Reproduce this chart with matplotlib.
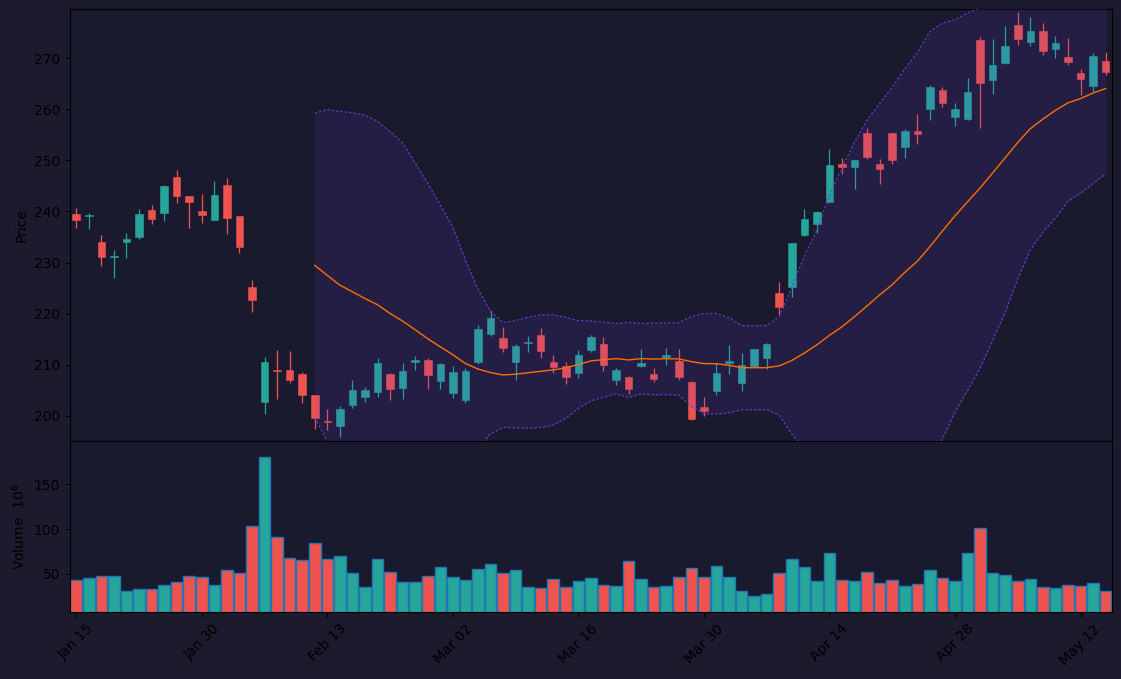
import matplotlib
matplotlib.use("Agg")
import matplotlib.pyplot as plt
import numpy as np
import pandas as pd

# ---------------- data ----------------
opens = [239.44, 239.11, 233.96, 231.10, 234.03, 235.00, 240.22, 239.70, 246.68, 242.96,
         240.03, 238.33, 245.11, 239.05, 225.16, 202.74, 209.06, 208.93, 208.15, 204.04,
         199.02, 198.04, 202.15, 203.72, 204.69, 208.15, 205.48, 210.56, 210.89, 206.84,
         204.50, 203.13, 210.50, 216.04, 215.19, 210.56, 214.28, 215.78, 210.50, 209.71,
         208.41, 212.91, 214.02, 207.04, 207.56, 209.78, 208.15, 211.54, 210.69, 206.58,
         201.69, 204.89, 210.37, 206.45, 209.78, 211.28, 223.99, 225.23, 235.40, 237.55,
         241.85, 249.35, 248.70, 255.28, 249.35, 255.28, 252.61, 255.67, 260.04, 263.69,
         258.47, 258.02, 273.47, 265.71, 269.04, 276.40, 273.14, 275.23, 271.77, 270.14,
         267.01, 264.54, 269.49]
closes = [238.33, 239.24, 231.10, 231.36, 234.55, 239.44, 238.53, 244.92, 243.02, 241.85,
          239.31, 243.16, 238.72, 233.05, 222.69, 210.50, 208.80, 207.04, 204.11, 199.61,
          198.83, 201.30, 205.02, 205.02, 210.30, 205.28, 208.74, 210.89, 208.02, 210.10,
          208.54, 208.87, 216.95, 219.10, 213.30, 213.62, 214.47, 212.71, 209.58, 207.63,
          211.86, 215.38, 209.97, 208.93, 205.28, 210.30, 207.24, 211.86, 207.63, 199.35,
          200.91, 208.34, 210.69, 209.91, 213.04, 214.02, 221.32, 233.77, 238.59, 239.96,
          249.15, 248.70, 250.00, 250.65, 248.31, 250.07, 255.67, 255.15, 264.28, 261.21,
          259.97, 263.30, 265.12, 268.58, 272.29, 273.79, 275.23, 271.38, 272.88, 269.23,
          265.91, 270.34, 267.27]
highs = [240.74, 239.77, 235.33, 232.53, 235.85, 240.55, 241.20, 245.11, 248.04, 243.09,
         243.48, 245.89, 246.61, 239.10, 226.53, 211.60, 212.97, 212.78, 208.67, 204.10,
         201.30, 201.96, 206.98, 205.74, 211.28, 208.47, 210.43, 211.67, 211.28, 210.43,
         209.84, 209.32, 217.73, 220.73, 217.47, 214.02, 215.71, 217.14, 211.86, 210.63,
         212.84, 215.78, 215.38, 209.32, 207.82, 213.04, 209.45, 213.23, 213.04, 206.78,
         203.78, 210.43, 213.82, 212.39, 213.10, 214.21, 226.27, 233.90, 240.55, 240.09,
         252.28, 250.46, 250.13, 256.39, 250.33, 255.30, 256.19, 258.99, 264.80, 264.34,
         261.28, 266.17, 274.18, 273.66, 276.34, 278.94, 278.10, 276.92, 274.25, 273.86,
         267.93, 270.93, 271.12]
lows = [236.83, 236.64, 229.33, 227.05, 230.96, 234.68, 237.61, 238.14, 241.72, 236.83,
        237.74, 238.27, 235.66, 231.94, 220.40, 200.46, 203.39, 206.52, 202.61, 197.52,
        197.33, 195.96, 201.63, 202.80, 203.78, 203.19, 203.39, 209.00, 205.35, 205.35,
        203.59, 202.61, 210.10, 215.65, 212.52, 207.11, 212.58, 211.41, 208.34, 206.32,
        207.50, 212.52, 208.80, 206.06, 204.37, 209.58, 206.71, 209.97, 207.04, 199.22,
        200.00, 204.11, 208.28, 204.89, 209.65, 209.19, 219.75, 223.34, 235.20, 235.85,
        241.80, 247.39, 244.46, 250.33, 245.37, 249.35, 250.52, 253.26, 257.95, 260.50,
        256.71, 257.89, 256.39, 263.04, 268.90, 272.62, 272.43, 270.66, 270.08, 268.71,
        262.84, 263.43, 266.69]
volumes = [43.0, 45.2, 47.4, 47.4, 31.5, 33.0, 32.7, 37.5, 40.8, 47.4,
           46.3, 37.5, 54.1, 50.7, 103.5, 180.3, 91.7, 67.3, 65.1, 84.0,
           66.2, 69.6, 50.7, 35.2, 66.2, 52.6, 40.8, 40.8, 47.4, 57.4,
           46.3, 43.0, 55.2, 60.7, 50.7, 54.1, 35.2, 34.1, 44.1, 35.2,
           41.9, 45.2, 37.5, 36.3, 64.0, 44.1, 35.2, 36.3, 46.3, 56.3,
           46.3, 58.5, 46.3, 30.8, 25.3, 27.5, 50.7, 66.2, 57.4, 41.9,
           72.9, 43.0, 41.9, 51.8, 39.7, 43.0, 36.3, 38.6, 54.1, 45.2,
           41.9, 72.9, 101.7, 50.7, 48.5, 41.9, 44.1, 35.2, 34.1, 37.5,
           36.3, 39.7, 30.8]
start_date = "2026-01-15"
holidays = ["2026-01-19", "2026-02-16", "2026-04-03"]

# ---------------- build ----------------
n = len(closes)
dates = [d for d in pd.bdate_range(start_date, periods=n + 10)
         if d.strftime("%Y-%m-%d") not in holidays][:n]
df = pd.DataFrame({"Open": opens, "High": highs, "Low": lows,
                   "Close": closes, "Volume": volumes}, index=dates)
sma = df["Close"].rolling(20).mean()
std = df["Close"].rolling(20).std()
upper = sma + 2 * std
lower = sma - 2 * std

UP = "#26a69a"
DOWN = "#ef5350"
FIG_BG = "#1b1b2d"
AX_BG = "#1a1a2e"
BAND = "#6a3fdc"

fig = plt.figure(figsize=(11.21, 6.79), dpi=100, facecolor=FIG_BG)
ax = fig.add_axes([0.0624, 0.3505, 0.9295, 0.6362], facecolor=AX_BG)
axv = fig.add_axes([0.0624, 0.0987, 0.9295, 0.2518], facecolor=AX_BG, sharex=ax)

x = np.arange(n)
o = df["Open"].values
c = df["Close"].values
h = df["High"].values
l = df["Low"].values
up = c >= o
colors = np.where(up, UP, DOWN)

# wicks
ax.vlines(x, l, h, colors=colors, linewidth=0.9, zorder=2)
# bodies
body_bottom = np.minimum(o, c)
body_h = np.maximum(np.abs(c - o), 0.12)
ax.bar(x, body_h, bottom=body_bottom, width=0.6, color=colors,
       edgecolor=colors, linewidth=0.4, zorder=2)

# Bollinger bands
ax.fill_between(x, lower.values, upper.values, where=~np.isnan(sma.values),
                color=BAND, alpha=0.13, linewidth=0, zorder=3)
ax.plot(x, upper.values, color=BAND, linestyle=(0, (2, 1.5)), linewidth=0.9,
        alpha=0.85, zorder=3)
ax.plot(x, lower.values, color=BAND, linestyle=(0, (2, 1.5)), linewidth=0.9,
        alpha=0.85, zorder=3)
ax.plot(x, sma.values, color="#ff6d00", linewidth=1.0, zorder=4)

ax.set_ylim(195.1, 279.6)
ax.set_xlim(-0.5, n - 0.5)
ax.set_yticks([200, 210, 220, 230, 240, 250, 260, 270])
ax.set_ylabel("Price")
ax.tick_params(axis="x", which="both", bottom=False, labelbottom=False)

# volume
axv.bar(x, df["Volume"].values, width=0.92, color=colors,
        edgecolor="#1f77b4", linewidth=1.0, zorder=2)
vmin = 0.3 * df["Volume"].min()
vmax = 1.1 * df["Volume"].max()
axv.set_ylim(vmin, vmax)
axv.set_yticks([50, 100, 150])
axv.set_ylabel("Volume  $10^{6}$")

tick_pos = list(range(0, n, 10))
axv.set_xticks(tick_pos)
axv.set_xticklabels([dates[i].strftime("%b %d") for i in tick_pos],
                    rotation=45, ha="center")

for a in (ax, axv):
    for s in a.spines.values():
        s.set_color("black")

fig.savefig("out.png", dpi=100, facecolor=FIG_BG)
